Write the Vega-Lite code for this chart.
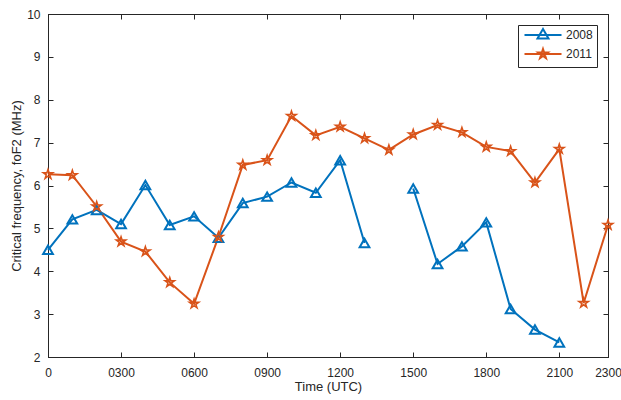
{
  "$schema": "https://vega.github.io/schema/vega-lite/v6.json",
  "autosize": "none",
  "width": 560,
  "height": 343,
  "padding": {"left": 48, "top": 14, "right": 13, "bottom": 43},
  "background": "white",
  "config": {
    "font": "Liberation Sans",
    "view": {"stroke": "#262626", "strokeWidth": 1},
    "axis": {
      "grid": false,
      "domainColor": "#262626",
      "domainWidth": 1,
      "tickColor": "#262626",
      "tickWidth": 1,
      "labelColor": "#262626",
      "labelFontSize": 12,
      "labelFont": "Liberation Sans",
      "titleFont": "Liberation Sans",
      "titleFontWeight": "normal",
      "titleColor": "#262626",
      "titleFontSize": 13
    }
  },
  "data": {
    "values": [
      {"year": "2008", "seg": "a", "time": 0, "foF2": 4.5},
      {"year": "2008", "seg": "a", "time": 100, "foF2": 5.21},
      {"year": "2008", "seg": "a", "time": 200, "foF2": 5.43},
      {"year": "2008", "seg": "a", "time": 300, "foF2": 5.1},
      {"year": "2008", "seg": "a", "time": 400, "foF2": 6.01},
      {"year": "2008", "seg": "a", "time": 500, "foF2": 5.08},
      {"year": "2008", "seg": "a", "time": 600, "foF2": 5.28},
      {"year": "2008", "seg": "a", "time": 700, "foF2": 4.78},
      {"year": "2008", "seg": "a", "time": 800, "foF2": 5.59},
      {"year": "2008", "seg": "a", "time": 900, "foF2": 5.74},
      {"year": "2008", "seg": "a", "time": 1000, "foF2": 6.07},
      {"year": "2008", "seg": "a", "time": 1100, "foF2": 5.83},
      {"year": "2008", "seg": "a", "time": 1200, "foF2": 6.59},
      {"year": "2008", "seg": "a", "time": 1300, "foF2": 4.66},
      {"year": "2008", "seg": "b", "time": 1500, "foF2": 5.93},
      {"year": "2008", "seg": "b", "time": 1600, "foF2": 4.17},
      {"year": "2008", "seg": "b", "time": 1700, "foF2": 4.58},
      {"year": "2008", "seg": "b", "time": 1800, "foF2": 5.14},
      {"year": "2008", "seg": "b", "time": 1900, "foF2": 3.12},
      {"year": "2008", "seg": "b", "time": 2000, "foF2": 2.64},
      {"year": "2008", "seg": "b", "time": 2100, "foF2": 2.34},
      {"year": "2011", "seg": "a", "time": 0, "foF2": 6.26},
      {"year": "2011", "seg": "a", "time": 100, "foF2": 6.24},
      {"year": "2011", "seg": "a", "time": 200, "foF2": 5.51},
      {"year": "2011", "seg": "a", "time": 300, "foF2": 4.69},
      {"year": "2011", "seg": "a", "time": 400, "foF2": 4.46},
      {"year": "2011", "seg": "a", "time": 500, "foF2": 3.74},
      {"year": "2011", "seg": "a", "time": 600, "foF2": 3.24},
      {"year": "2011", "seg": "a", "time": 700, "foF2": 4.8},
      {"year": "2011", "seg": "a", "time": 800, "foF2": 6.48},
      {"year": "2011", "seg": "a", "time": 900, "foF2": 6.59},
      {"year": "2011", "seg": "a", "time": 1000, "foF2": 7.62},
      {"year": "2011", "seg": "a", "time": 1100, "foF2": 7.17},
      {"year": "2011", "seg": "a", "time": 1200, "foF2": 7.37},
      {"year": "2011", "seg": "a", "time": 1300, "foF2": 7.1},
      {"year": "2011", "seg": "a", "time": 1400, "foF2": 6.83},
      {"year": "2011", "seg": "a", "time": 1500, "foF2": 7.19},
      {"year": "2011", "seg": "a", "time": 1600, "foF2": 7.41},
      {"year": "2011", "seg": "a", "time": 1700, "foF2": 7.24},
      {"year": "2011", "seg": "a", "time": 1800, "foF2": 6.9},
      {"year": "2011", "seg": "a", "time": 1900, "foF2": 6.8},
      {"year": "2011", "seg": "a", "time": 2000, "foF2": 6.07},
      {"year": "2011", "seg": "a", "time": 2100, "foF2": 6.85},
      {"year": "2011", "seg": "a", "time": 2200, "foF2": 3.26},
      {"year": "2011", "seg": "a", "time": 2300, "foF2": 5.08}
    ]
  },
  "layer": [
    {
      "mark": {"type": "line", "strokeWidth": 2},
      "encoding": {
        "x": {
          "field": "time", "type": "quantitative",
          "scale": {"domain": [0, 2300], "nice": false, "zero": false},
          "axis": {
            "title": "Time (UTC)",
            "values": [0, 300, 600, 900, 1200, 1500, 1800, 2100, 2300],
            "labelExpr": "datum.value == 0 ? '0' : (datum.value < 1000 ? '0' + datum.value : '' + datum.value)",
            "tickSize": -5,
            "labelPadding": 15,
            "titlePadding": 2,
            "labelFlush": false,
            "labelOverlap": false
          }
        },
        "y": {
          "field": "foF2", "type": "quantitative",
          "scale": {"domain": [2, 10], "nice": false, "zero": false},
          "axis": {
            "title": "Critical frequency, foF2 (MHz)",
            "values": [2, 3, 4, 5, 6, 7, 8, 9, 10],
            "tickSize": -5,
            "labelPadding": 13,
            "titlePadding": 3,
            "labelFlush": false
          }
        },
        "color": {
          "field": "year", "type": "nominal",
          "scale": {"domain": ["2008", "2011"], "range": ["#0072BD", "#D95319"]},
          "legend": {
            "title": null,
            "orient": "top-right",
            "offset": 11,
            "strokeColor": "#262626",
            "fillColor": "white",
            "padding": 4,
            "labelFontSize": 12,
            "labelColor": "#262626",
            "symbolSize": 100,
            "symbolStrokeWidth": 2,
            "symbolType": "circle",
            "rowPadding": 2,
            "labelOffset": 17,
            "symbolOffset": 15,
            "encode": {
              "symbols": {
                "update": {
                  "shape": {"signal": "datum.value == '2008' ? 'M-3.7,0H3.7M0,-1.2L1.1,0.7L-1.1,0.7Z' : 'M-3.7,0H3.7M0,-1L0.225,-0.309L0.951,-0.309L0.363,0.118L0.588,0.809L0,0.382L-0.588,0.809L-0.363,0.118L-0.951,-0.309L-0.225,-0.309Z'"},
                  "fill": {"value": "transparent"},
                  "strokeWidth": {"value": 2}
                }
              }
            }
          }
        },
        "detail": {"field": "seg"}
      }
    },
    {
      "mark": {"type": "point", "filled": false, "opacity": 1},
      "encoding": {
        "x": {
          "field": "time", "type": "quantitative",
          "scale": {"domain": [0, 2300], "nice": false, "zero": false},
          "axis": {"title": null, "labels": false, "values": [0, 300, 600, 900, 1200, 1500, 1800, 2100, 2300], "tickSize": -5}
        },
        "y": {
          "field": "foF2", "type": "quantitative",
          "scale": {"domain": [2, 10], "nice": false, "zero": false},
          "axis": {"title": null, "labels": false, "values": [2, 3, 4, 5, 6, 7, 8, 9, 10], "tickSize": -5}
        },
        "color": {
          "field": "year", "type": "nominal",
          "legend": null
        },
        "shape": {
          "condition": {"test": "datum.year == '2011'", "value": "M0,-1L0.225,-0.309L0.951,-0.309L0.363,0.118L0.588,0.809L0,0.382L-0.588,0.809L-0.363,0.118L-0.951,-0.309L-0.225,-0.309Z"},
          "value": "triangle-up"
        },
        "size": {"value": 95},
        "strokeWidth": {"condition": {"test": "datum.year == '2011'", "value": 1.6}, "value": 2}
      }
    }
  ],
  "resolve": {
    "scale": {"x": "independent", "y": "independent"},
    "axis": {"x": "independent", "y": "independent"}
  }
}
